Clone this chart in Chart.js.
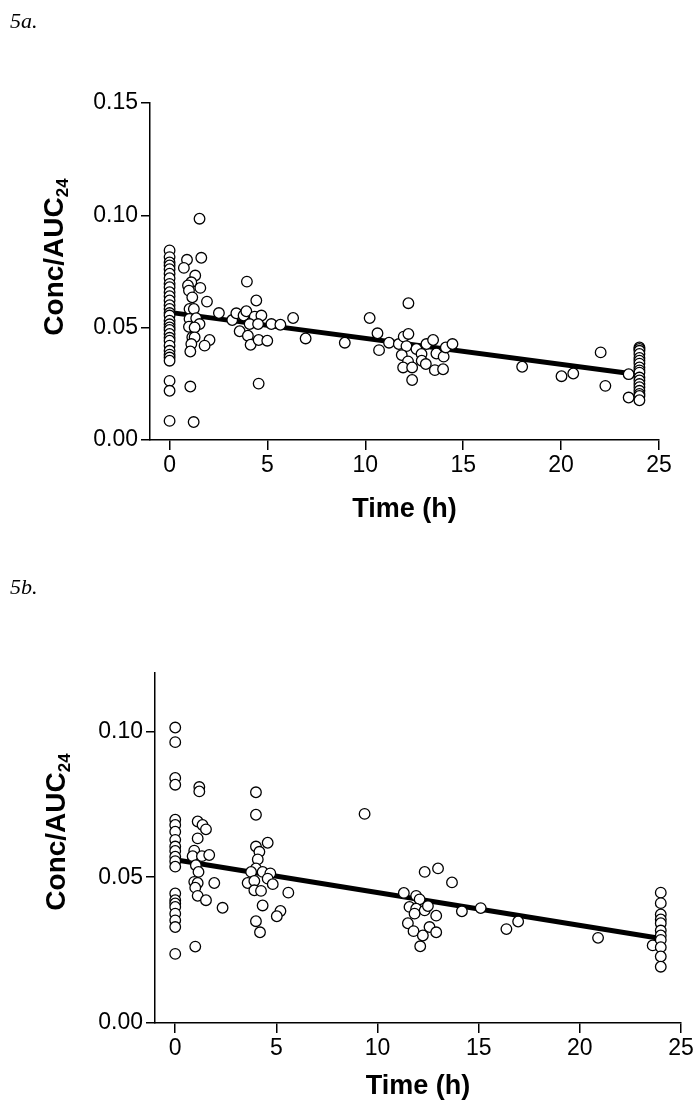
<!DOCTYPE html>
<html>
<head>
<meta charset="utf-8">
<script src="https://cdn.jsdelivr.net/npm/chart.js@4.4.0/dist/chart.umd.min.js"></script>
<style>
  body { margin: 0; background: #fff; }
  #wrap { position: relative; width: 700px; height: 1120px; }
  canvas { position: absolute; left: 0; }
  .panel { position: absolute; left: 10px; font: italic 22px "Liberation Serif", "Times New Roman", serif; color: #000; }
</style>
</head>
<body>
<div id="wrap">
  <canvas id="chartA" width="700" height="540" style="top:0"></canvas>
  <canvas id="chartB" width="700" height="580" style="top:540px"></canvas>
  <div class="panel" style="top:8px">5a.</div>
  <div class="panel" style="top:574px">5b.</div>
</div>
<script>
// ---- panel 5a data (time in h, Conc/AUC24) ----
const timeA = [
  0, 0, 0, 0, 0, 0, 0, 0, 0, 0, 0, 0, 0, 0, 0, 0, 0, 0, 0, 0, 0, 0, 0, 0, 0, 0, 0, 0, 0, 0, 0,
  1.53, 0.89, 0.73, 1.62, 1.31, 1.11, 0.94, 0.99, 1.57, 1.16, 1.91, 1.02, 1.24, 2.52, 1.02, 1.36,
  0.99, 1.53, 1.28, 1.16, 1.28, 1.11, 2.04, 1.79, 1.06, 1.06, 1.23,
  3.95, 4.43, 3.20, 3.41, 3.78, 3.92, 4.35, 4.69, 4.09, 4.52, 3.58, 4.00, 4.14, 4.55, 4.99, 5.20,
  5.66, 6.31, 6.95, 4.55,
  8.95, 10.22, 10.62, 10.70,
  11.21, 11.71, 11.96, 12.20, 12.20, 12.10, 11.86, 12.18, 11.93, 12.39, 12.39, 12.61, 12.87, 12.88,
  13.09, 13.12, 13.46, 13.63, 13.55, 13.97, 14.00, 14.11, 14.45,
  18.01, 20.02, 20.62, 22.02, 22.26, 23.45, 23.45,
  24, 24, 24, 24, 24, 24, 24, 24, 24, 24, 24, 24, 24, 24, 24, 24, 24, 24
];
const concA = [
  0.0844, 0.0814, 0.0790, 0.0777, 0.0760, 0.0740, 0.0720, 0.0695, 0.0680, 0.0658, 0.0640, 0.0621,
  0.0600, 0.0583, 0.0565, 0.0554, 0.0531, 0.0515, 0.0501, 0.0490, 0.0472, 0.0455, 0.0442, 0.0420,
  0.0397, 0.0380, 0.0367, 0.0353, 0.0263, 0.0219, 0.0085,
  0.0985, 0.0802, 0.0766, 0.0811, 0.0732, 0.0702, 0.0688, 0.0665, 0.0677, 0.0635, 0.0616, 0.0583,
  0.0583, 0.0565, 0.0539, 0.0542, 0.0504, 0.0516, 0.0501, 0.0457, 0.0457, 0.0427, 0.0445, 0.0420,
  0.0394, 0.0238, 0.0080,
  0.0705, 0.0621, 0.0534, 0.0564, 0.0554, 0.0573, 0.0549, 0.0554, 0.0516, 0.0516, 0.0484, 0.0464,
  0.0424, 0.0445, 0.0442, 0.0516, 0.0513, 0.0543, 0.0452, 0.0251,
  0.0433, 0.0543, 0.0475, 0.0400,
  0.0433, 0.0427, 0.0460, 0.0472, 0.0609, 0.0418, 0.0378, 0.0350, 0.0323, 0.0323, 0.0267, 0.0405,
  0.0383, 0.0353, 0.0338, 0.0427, 0.0445, 0.0385, 0.0311, 0.0315, 0.0371, 0.0412, 0.0427,
  0.0326, 0.0284, 0.0296, 0.0390, 0.0241, 0.0293, 0.0189,
  0.0412, 0.0405, 0.0397, 0.0383, 0.0365, 0.0353, 0.0340, 0.0323, 0.0310, 0.0300, 0.0278, 0.0265,
  0.0249, 0.0235, 0.0219, 0.0205, 0.0196, 0.0177
];
const fitTimeA = [0, 24];
const fitConcA = [0.0568, 0.0290];

// ---- panel 5b data ----
const timeB = [
  0, 0, 0, 0, 0, 0, 0, 0, 0, 0, 0, 0, 0, 0, 0, 0, 0, 0, 0, 0, 0,
  1.19, 1.19, 1.11, 1.35, 1.52, 1.11, 0.94, 0.86, 1.32, 1.68, 1.02, 1.15, 0.94, 1.11, 0.99, 1.93,
  1.11, 1.52, 2.34, 0.99,
  3.99, 3.99, 3.99, 4.57, 4.16, 4.08, 3.99, 3.75, 4.32, 4.70, 3.58, 3.91, 3.91, 4.24, 4.57, 4.82,
  5.59, 4.32, 5.20, 5.02, 3.99, 4.19,
  9.36,
  12.33, 12.99, 13.68, 11.30, 11.91, 12.08, 11.58, 11.91, 12.33, 12.49, 11.83, 12.90, 11.50, 11.78,
  12.57, 12.24, 12.90, 12.11, 14.17, 15.10,
  16.37, 16.95, 20.90, 23.60,
  24, 24, 24, 24, 24, 24, 24, 24, 24, 24, 24
];
const concB = [
  0.1013, 0.0963, 0.0840, 0.0817, 0.0697, 0.0679, 0.0656, 0.0628, 0.0605, 0.0590, 0.0570, 0.0555,
  0.0536, 0.0444, 0.0421, 0.0410, 0.0398, 0.0375, 0.0352, 0.0329, 0.0237,
  0.0809, 0.0794, 0.0691, 0.0679, 0.0664, 0.0633, 0.0591, 0.0572, 0.0572, 0.0576, 0.0541, 0.0518,
  0.0484, 0.0480, 0.0464, 0.0480, 0.0436, 0.0421, 0.0395, 0.0262,
  0.0791, 0.0714, 0.0605, 0.0618, 0.0587, 0.0561, 0.0530, 0.0518, 0.0518, 0.0513, 0.0480, 0.0487,
  0.0455, 0.0453, 0.0495, 0.0476, 0.0447, 0.0403, 0.0384, 0.0366, 0.0349, 0.0311,
  0.0717,
  0.0518, 0.0530, 0.0482, 0.0446, 0.0436, 0.0424, 0.0398, 0.0392, 0.0386, 0.0401, 0.0375, 0.0368,
  0.0342, 0.0315, 0.0329, 0.0300, 0.0311, 0.0263, 0.0383, 0.0394,
  0.0322, 0.0348, 0.0292, 0.0266,
  0.0447, 0.0411, 0.0372, 0.0355, 0.0342, 0.0317, 0.0300, 0.0285, 0.0260, 0.0228, 0.0193
];
const fitTimeB = [0, 24];
const fitConcB = [0.0560, 0.0290];

// ---- axis ticks ----
const xTicks = [0, 5, 10, 15, 20, 25];
const yTicksA = [0, 0.05, 0.10, 0.15];
const yTicksB = [0, 0.05, 0.10];

Chart.defaults.font.family = '"Liberation Sans", Arial, sans-serif';
Chart.defaults.color = "#000";

// y axis title with a real subscript
const yTitlePlugin = {
  id: "yTitle",
  afterDraw(chart, args, opts) {
    const ctx = chart.ctx;
    const mainFont = 'bold 28px "Liberation Sans", Arial, sans-serif';
    const subFont = 'bold 17px "Liberation Sans", Arial, sans-serif';
    ctx.save();
    ctx.translate(opts.x, opts.y);
    ctx.rotate(-Math.PI / 2);
    ctx.fillStyle = "#000";
    ctx.textBaseline = "alphabetic";
    ctx.textAlign = "left";
    ctx.font = mainFont;
    const wMain = ctx.measureText("Conc/AUC").width;
    ctx.font = subFont;
    const wSub = ctx.measureText("24").width;
    const start = -(wMain + wSub) / 2;
    ctx.font = mainFont;
    ctx.fillText("Conc/AUC", start, 0);
    ctx.font = subFont;
    ctx.fillText("24", start + wMain, 5);
    ctx.restore();
  }
};

function makeChart(id, times, concs, fitT, fitC, yMax, yTicks, L) {
  const pts = times.map((t, i) => ({ x: t, y: concs[i] }));
  const fit = fitT.map((t, i) => ({ x: t, y: fitC[i] }));
  return new Chart(document.getElementById(id), {
    type: "scatter",
    data: {
      datasets: [
        {
          data: pts,
          pointRadius: 5.3,
          pointBorderWidth: 1.3,
          pointBackgroundColor: "#fff",
          pointBorderColor: "#000",
          order: 0,
        },
        {
          type: "line",
          data: fit,
          showLine: true,
          borderColor: "#000",
          borderWidth: 5,
          pointRadius: 0,
          fill: false,
          order: 1,
        },
      ],
    },
    options: {
      responsive: false,
      animation: false,
      layout: { padding: { top: L.top, right: L.right, left: 0, bottom: 0 } },
      plugins: {
        legend: { display: false },
        tooltip: { enabled: false },
        yTitle: { x: L.yTitleX, y: L.yTitleY },
      },
      scales: {
        x: {
          type: "linear",
          min: -1,
          max: 25,
          afterBuildTicks: (s) => { s.ticks = xTicks.map((v) => ({ value: v })); },
          afterFit: (s) => { s.height = L.xHeight; s.paddingLeft = 0; s.paddingRight = 0; },
          grid: { drawOnChartArea: false, drawTicks: true, tickLength: 10, color: "#000", lineWidth: 1.5 },
          border: { display: true, color: "#000", width: 1.5 },
          ticks: { color: "#000", font: { size: 23 }, padding: 2, maxRotation: 0 },
          title: {
            display: true,
            text: "Time (h)",
            color: "#000",
            font: { size: 27, weight: "bold" },
            padding: { top: 0, bottom: L.titlePad },
          },
        },
        y: {
          min: 0,
          max: yMax,
          afterBuildTicks: (s) => { s.ticks = yTicks.map((v) => ({ value: v })); },
          afterFit: (s) => { s.width = L.yWidth; s.paddingTop = 0; s.paddingBottom = 0; },
          grid: { drawOnChartArea: false, drawTicks: true, tickLength: 9, color: "#000", lineWidth: 1.5 },
          border: { display: true, color: "#000", width: 1.5 },
          ticks: { color: "#000", font: { size: 23 }, padding: 3, callback: (v) => Number(v).toFixed(2) },
        },
      },
    },
    plugins: [yTitlePlugin],
  });
}

makeChart("chartA", timeA, concA, fitTimeA, fitConcA, 0.15, yTicksA,
  { top: 103, right: 41, yWidth: 150, xHeight: 100, titlePad: 14, yTitleX: 63, yTitleY: 257 });
makeChart("chartB", timeB, concB, fitTimeB, fitConcB, 0.12, yTicksB,
  { top: 133, right: 19, yWidth: 155, xHeight: 97, titlePad: 17, yTitleX: 65, yTitleY: 292 });
</script>
</body>
</html>
